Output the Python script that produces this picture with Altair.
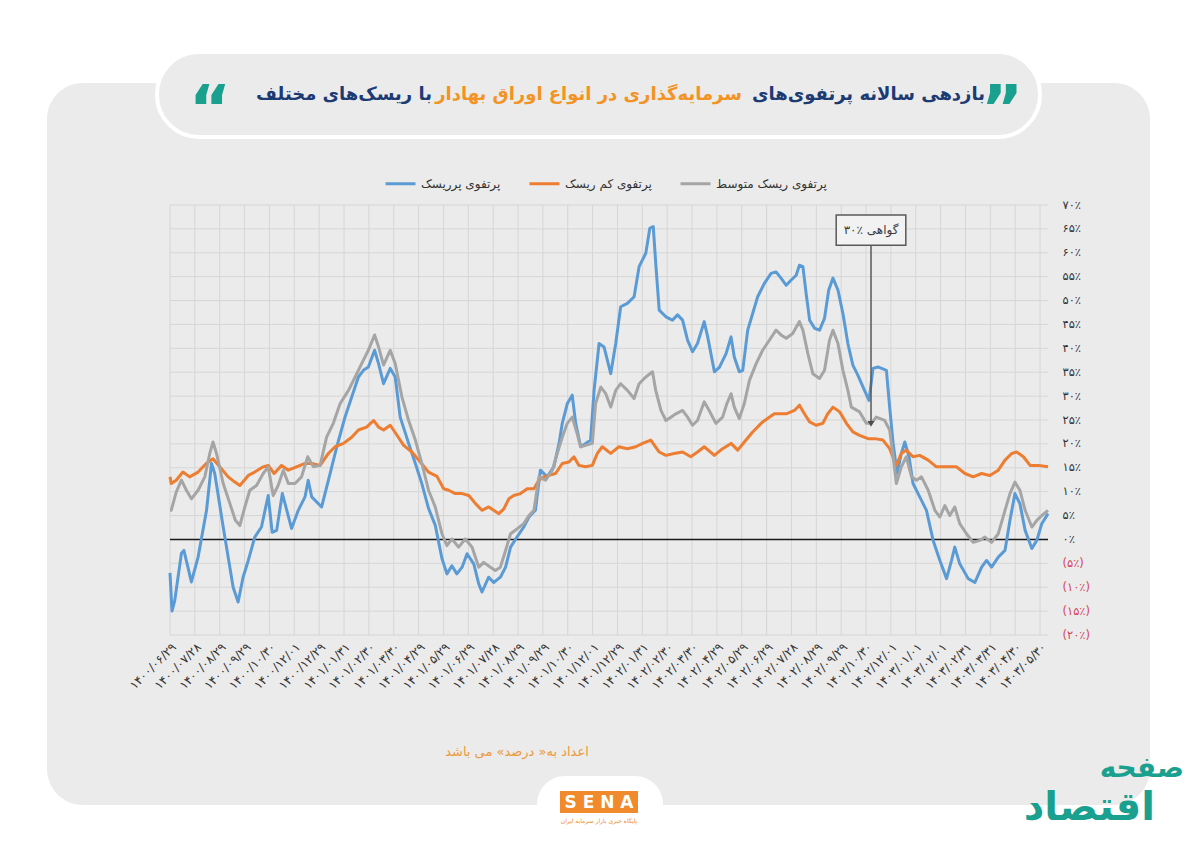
import json

import altair as alt
import pandas as pd

# ---------------- data ----------------
# t = position along the x axis in "label steps" (0 = first date label), v = annual return in %
x_labels = [
    "۱۴۰۰/۰۶/۲۹", "۱۴۰۰/۰۷/۲۸", "۱۴۰۰/۰۸/۲۹", "۱۴۰۰/۰۹/۲۹", "۱۴۰۰/۱۰/۳۰", "۱۴۰۰/۱۲/۰۱",
    "۱۴۰۰/۱۲/۲۹", "۱۴۰۱/۰۱/۳۱", "۱۴۰۱/۰۲/۳۰", "۱۴۰۱/۰۳/۳۰", "۱۴۰۱/۰۴/۲۹", "۱۴۰۱/۰۵/۲۹",
    "۱۴۰۱/۰۶/۲۹", "۱۴۰۱/۰۷/۲۸", "۱۴۰۱/۰۸/۲۹", "۱۴۰۱/۰۹/۲۹", "۱۴۰۱/۱۰/۳۰", "۱۴۰۱/۱۲/۰۱",
    "۱۴۰۱/۱۲/۲۹", "۱۴۰۲/۰۱/۳۱", "۱۴۰۲/۰۲/۳۰", "۱۴۰۲/۰۳/۳۰", "۱۴۰۲/۰۴/۲۹", "۱۴۰۲/۰۵/۲۹",
    "۱۴۰۲/۰۶/۲۹", "۱۴۰۲/۰۷/۲۸", "۱۴۰۲/۰۸/۲۹", "۱۴۰۲/۰۹/۲۹", "۱۴۰۲/۱۰/۳۰", "۱۴۰۲/۱۲/۰۱",
    "۱۴۰۳/۰۱/۰۱", "۱۴۰۳/۰۲/۰۱", "۱۴۰۳/۰۲/۳۱", "۱۴۰۳/۰۳/۳۱", "۱۴۰۳/۰۴/۳۰", "۱۴۰۳/۰۵/۳۰",
]
x_ticks = list(range(len(x_labels)))
y_ticks = list(range(-20, 75, 5))
y_labels = [
    "(۲۰٪)", "(۱۵٪)", "(۱۰٪)", "(۵٪)", "۰٪", "۵٪", "۱۰٪", "۱۵٪", "۲۰٪", "۲۵٪",
    "۳۰٪", "۳۵٪", "۴۰٪", "۴۵٪", "۵۰٪", "۵۵٪", "۶۰٪", "۶۵٪", "۷۰٪",
]

series_names = ["پرتفوی پرریسک", "پرتفوی کم ریسک", "پرتفوی ریسک متوسط"]
series_colors = ["#5b9bd5", "#ed7d31", "#a5a5a5"]

high_t = [0.0, 0.08, 0.19, 0.46, 0.56, 0.86, 1.13, 1.47, 1.67, 1.8, 2.14, 2.34, 2.54, 2.74,
          2.94, 3.15, 3.41, 3.68, 3.95, 4.11, 4.29, 4.52, 4.89, 5.16, 5.43, 5.56, 5.7, 6.1,
          6.44, 6.71, 7.04, 7.31, 7.58, 7.78, 7.98, 8.23, 8.39, 8.59, 8.86, 9.06, 9.26, 9.6,
          9.87, 10.13, 10.4, 10.67, 10.94, 11.14, 11.34, 11.54, 11.75, 11.95, 12.22, 12.42,
          12.55, 12.82, 13.02, 13.29, 13.5, 13.7, 13.96, 14.23, 14.44, 14.7, 14.9, 15.17,
          15.44, 15.65, 15.78, 15.98, 16.18, 16.32, 16.52, 16.72, 16.92, 17.06, 17.26, 17.46,
          17.73, 17.93, 18.13, 18.4, 18.67, 18.87, 19.14, 19.3, 19.44, 19.54, 19.68, 19.95,
          20.21, 20.42, 20.62, 20.82, 21.02, 21.22, 21.49, 21.63, 21.9, 22.1, 22.37, 22.57,
          22.7, 22.9, 23.04, 23.24, 23.44, 23.64, 23.91, 24.18, 24.38, 24.58, 24.79, 24.99,
          25.19, 25.32, 25.46, 25.59, 25.73, 25.93, 26.13, 26.33, 26.5, 26.67, 26.87, 27.07,
          27.27, 27.47, 27.67, 27.88, 28.12, 28.28, 28.48, 28.82, 28.95, 29.09, 29.25, 29.42,
          29.56, 29.73, 29.89, 30.16, 30.43, 30.7, 30.97, 31.24, 31.44, 31.57, 31.77, 32.11,
          32.38, 32.65, 32.85, 33.05, 33.32, 33.59, 33.79, 33.99, 34.19, 34.4, 34.67, 34.87,
          35.07, 35.32]
high_v = [-7.0, -15.0, -12.8, -2.9, -2.3, -8.9, -3.7, 6.1, 15.9, 13.8, 2.6, -3.7, -10.0, -13.1,
          -7.9, -4.4, 0.5, 2.6, 9.2, 1.5, 1.9, 9.6, 2.3, 6.1, 8.9, 12.4, 8.9, 6.8,
          13.8, 19.4, 25.6, 29.8, 34.0, 35.4, 36.1, 39.6, 36.8, 32.6, 35.8, 34.0, 25.6, 20.1,
          15.9, 11.7, 6.5, 3.0, -4.0, -7.2, -5.5, -7.2, -5.8, -3.0, -5.1, -9.3,
          -11.0, -7.9, -9.0, -7.9, -5.8, -1.6, 0.5, 2.6, 4.7, 6.1, 14.5, 13.1,
          15.2, 20.1, 24.3, 28.4, 30.2, 24.3, 19.4, 20.1, 20.8, 31.2, 41.0, 40.3,
          34.7, 41.0, 48.7, 49.4, 50.8, 57.1, 59.9, 65.1, 65.5, 57.8, 48.0, 46.6,
          45.9, 47.0, 45.9, 41.7, 39.3, 41.0, 45.6, 42.4, 35.1, 36.0, 38.9, 42.4,
          38.2, 35.1, 35.4, 43.8, 47.3, 50.8, 53.6, 55.7, 56.0, 54.7, 53.2, 54.3,
          55.3, 57.4, 57.1, 51.5, 45.9, 44.2, 43.8, 46.3, 52.2, 54.7, 52.2, 47.3,
          41.0, 36.5, 34.4, 31.9, 29.1, 35.8, 36.1, 35.4, 27.7, 20.1, 13.8, 18.0,
          20.4, 17.3, 11.7, 8.9, 6.1, -0.2, -4.4, -8.2, -4.4, -1.6, -5.1, -8.2,
          -9.0, -5.8, -4.4, -5.8, -3.7, -2.3, 4.0, 9.6, 7.5, 1.9, -1.9, -0.2,
          3.3, 5.4]

low_t = [0.0, 0.05, 0.25, 0.52, 0.79, 1.13, 1.46, 1.73, 2.0, 2.34, 2.61, 2.81, 3.15, 3.41,
         3.75, 3.95, 4.19, 4.49, 4.76, 5.09, 5.43, 5.7, 6.04, 6.37, 6.64, 6.98, 7.31, 7.58,
         7.91, 8.19, 8.39, 8.59, 8.86, 9.13, 9.4, 9.73, 10.07, 10.4, 10.74, 11.01, 11.21,
         11.48, 11.75, 12.02, 12.29, 12.55, 12.82, 13.02, 13.23, 13.43, 13.63, 13.83, 14.1,
         14.37, 14.64, 14.84, 15.04, 15.24, 15.51, 15.78, 16.05, 16.25, 16.45, 16.72, 16.99,
         17.19, 17.39, 17.73, 18.06, 18.4, 18.74, 19.01, 19.34, 19.68, 19.95, 20.28, 20.62,
         20.95, 21.22, 21.49, 21.9, 22.23, 22.57, 22.84, 23.17, 23.44, 23.84, 24.31, 24.79,
         25.12, 25.32, 25.52, 25.73, 25.99, 26.26, 26.46, 26.67, 26.94, 27.21, 27.47, 27.74,
         28.08, 28.35, 28.68, 28.95, 29.22, 29.42, 29.62, 29.89, 30.16, 30.5, 30.83, 31.1,
         31.37, 31.64, 31.98, 32.31, 32.65, 32.98, 33.32, 33.59, 33.86, 34.06, 34.33, 34.6,
         34.93, 35.32]
low_v = [13.1, 11.7, 12.4, 14.1, 13.1, 14.1, 15.9, 16.9, 15.2, 13.1, 12.0, 11.3, 13.4, 14.1,
         15.2, 15.5, 13.8, 15.5, 14.5, 15.2, 15.9, 15.9, 15.5, 18.0, 19.4, 20.1, 21.4, 22.9,
         23.5, 24.9, 23.5, 22.9, 23.9, 21.8, 19.7, 18.3, 16.2, 14.1, 13.2, 10.6, 10.3,
         9.6, 9.6, 9.2, 7.5, 6.1, 6.8, 6.1, 5.4, 6.4, 8.5, 9.2, 9.6,
         10.6, 10.6, 12.4, 13.1, 13.4, 13.8, 15.9, 16.2, 17.3, 15.5, 15.2, 15.5,
         18.0, 19.4, 18.0, 19.4, 19.0, 19.4, 20.1, 20.8, 18.3, 17.6, 18.0, 18.3,
         17.3, 18.3, 19.4, 17.6, 19.0, 20.1, 18.7, 20.8, 22.5, 24.6, 26.3, 26.3,
         27.0, 28.1, 26.3, 24.6, 23.9, 24.3, 26.3, 27.7, 26.7, 24.3, 22.5, 21.8,
         21.1, 21.1, 20.8, 19.0, 15.5, 18.0, 18.7, 17.3, 17.6, 16.6, 15.2, 15.2,
         15.2, 15.2, 13.8, 13.1, 13.8, 13.4, 14.5, 16.6, 18.0, 18.3, 17.3, 15.5,
         15.5, 15.2]

mid_t = [0.0, 0.05, 0.25, 0.46, 0.66, 0.86, 1.13, 1.4, 1.6, 1.73, 1.87, 2.14, 2.41, 2.63,
         2.81, 3.01, 3.21, 3.48, 3.75, 3.95, 4.15, 4.35, 4.56, 4.76, 5.03, 5.29, 5.54, 5.77,
         6.04, 6.3, 6.57, 6.84, 7.18, 7.45, 7.71, 7.98, 8.23, 8.39, 8.59, 8.86, 9.06, 9.33,
         9.6, 9.87, 10.13, 10.4, 10.67, 10.94, 11.14, 11.34, 11.61, 11.88, 12.15, 12.42,
         12.62, 12.89, 13.09, 13.29, 13.5, 13.7, 13.96, 14.23, 14.44, 14.64, 14.84, 15.11,
         15.38, 15.58, 15.78, 15.98, 16.18, 16.38, 16.52, 16.72, 16.99, 17.12, 17.33, 17.53,
         17.73, 17.93, 18.13, 18.4, 18.67, 18.87, 19.14, 19.41, 19.54, 19.75, 19.95, 20.15,
         20.35, 20.62, 20.82, 21.02, 21.22, 21.49, 21.69, 21.96, 22.23, 22.4, 22.57, 22.7,
         22.9, 23.1, 23.31, 23.58, 23.84, 24.11, 24.38, 24.58, 24.79, 25.05, 25.32, 25.46,
         25.66, 25.86, 26.13, 26.33, 26.53, 26.67, 26.87, 27.07, 27.27, 27.41, 27.74, 28.01,
         28.21, 28.41, 28.75, 28.95, 29.09, 29.22, 29.42, 29.62, 29.83, 30.03, 30.23, 30.5,
         30.77, 30.97, 31.17, 31.37, 31.57, 31.77, 32.04, 32.31, 32.58, 32.78, 33.05, 33.32,
         33.59, 33.79, 33.99, 34.19, 34.4, 34.67, 34.87, 35.07, 35.32]
mid_v = [6.1, 6.1, 9.9, 12.4, 10.3, 8.5, 10.3, 13.1, 18.0, 20.4, 18.0, 11.7, 7.5, 4.0,
         2.9, 6.8, 10.3, 11.3, 13.8, 15.2, 9.2, 11.3, 14.5, 11.7, 11.7, 13.1, 17.3, 15.2,
         15.5, 21.4, 24.3, 28.4, 31.2, 34.0, 36.8, 39.6, 42.8, 40.3, 36.5, 39.6, 36.8, 29.8,
         24.9, 20.8, 15.9, 10.3, 6.8, 1.2, -1.3, 0.1, -1.6, 0.1, -1.6, -5.8,
         -4.8, -5.8, -6.5, -5.8, -2.3, 1.2, 2.2, 3.3, 5.0, 6.1, 13.1, 12.4,
         14.5, 18.0, 21.4, 24.3, 25.6, 22.1, 19.4, 19.7, 20.1, 28.4, 31.9, 30.5,
         27.7, 31.2, 32.6, 31.2, 29.5, 32.6, 34.0, 35.1, 31.2, 27.0, 24.9, 25.6,
         26.3, 27.0, 25.6, 23.9, 24.9, 28.8, 27.0, 24.3, 25.6, 28.4, 30.5, 27.7,
         25.3, 28.4, 33.3, 36.8, 39.6, 41.7, 43.8, 42.8, 42.1, 43.1, 45.6, 43.8,
         38.9, 34.7, 33.7, 35.4, 41.7, 43.8, 41.0, 35.4, 31.2, 27.7, 26.7, 24.3,
         24.3, 25.6, 24.9, 22.9, 17.3, 11.7, 15.2, 17.3, 13.1, 12.4, 13.1, 10.3,
         6.1, 4.7, 7.1, 5.0, 6.8, 3.3, 1.2, -0.6, -0.2, 0.5, -0.6, 1.2,
         6.1, 9.6, 12.0, 10.3, 6.1, 2.6, 4.0, 5.0, 6.1]

# annotation ("certificate 30%") box and arrow, in data units
note_text = "\u200e۳۰٪ گواهی"
note_t, note_t0, note_t1 = 28.2, 26.8, 29.6
note_v0, note_v1, note_tip = 61.6, 67.9, 23.0

title_parts = ["بازدهی سالانه پرتفوی‌های", "سرمایه‌گذاری در انواع اوراق بهادار", "با ریسک‌های مختلف"]
footnote = "اعداد به« درصد» می باشد"

# ---------------- chart ----------------
W, H = 878, 430
FONT = "DejaVu Sans"
NAVY, ORANGE, TEAL = "#1d3b73", "#f39323", "#1aa08f"
CARD = "#ebebeb"

lines_df = pd.concat(
    [
        pd.DataFrame({"t": high_t, "v": high_v, "s": series_names[0], "o": 0}),
        pd.DataFrame({"t": low_t, "v": low_v, "s": series_names[1], "o": 1}),
        pd.DataFrame({"t": mid_t, "v": mid_v, "s": series_names[2], "o": 2}),
    ],
    ignore_index=True,
)

xscale = alt.Scale(domain=[0, 35.32], nice=False, zero=False)
yscale = alt.Scale(domain=[-20, 70], nice=False)
xaxis = alt.Axis(
    values=x_ticks,
    labelExpr=f"{json.dumps(x_labels, ensure_ascii=False)}[datum.value]",
    labelAngle=-45,
    labelFontSize=12,
    labelColor="#333333",
    labelPadding=6,
    labelFont=FONT,
    grid=False,
    ticks=False,
    domain=False,
    title=None,
    labelOverlap=False,
    zindex=1,
)
yaxis = alt.Axis(
    orient="right",
    values=y_ticks,
    labelExpr=f"{json.dumps(y_labels, ensure_ascii=False)}[(datum.value + 20) / 5]",
    labelFontSize=11.5,
    labelColor=alt.condition("datum.value < 0", alt.value("#d2475b"), alt.value("#333333")),
    labelPadding=14,
    labelAlign="left",
    labelFont=FONT,
    grid=False,
    ticks=False,
    domain=False,
    title=None,
    labelOverlap=False,
    zindex=1,
)

one = pd.DataFrame({"k": [0]})

card = alt.Chart(one).mark_rect(fill=CARD, cornerRadius=36).encode(
    x=alt.value(-123), x2=alt.value(980), y=alt.value(-122), y2=alt.value(600)
)
pill = alt.Chart(one).mark_rect(fill=CARD, stroke="white", strokeWidth=4, cornerRadius=42).encode(
    x=alt.value(-13), x2=alt.value(870), y=alt.value(-153), y2=alt.value(-68)
)

def title_text(txt, color, x):
    return alt.Chart(one).mark_text(
        text=txt, color=color, font=FONT, fontSize=18, fontWeight="bold",
        align="right", baseline="middle",
    ).encode(x=alt.value(x), y=alt.value(-110))

title = [
    title_text(title_parts[0], NAVY, 815),
    title_text(title_parts[1], ORANGE, 572),
    title_text(title_parts[2], NAVY, 262),
]
quotes = [
    alt.Chart(one).mark_text(text="”", color=TEAL, font=FONT, fontSize=64, fontWeight="bold",
                             baseline="middle").encode(x=alt.value(832), y=alt.value(-93)),
    alt.Chart(one).mark_text(text="“", color=TEAL, font=FONT, fontSize=64, fontWeight="bold",
                             baseline="middle").encode(x=alt.value(40), y=alt.value(-93)),
]

vgrid = alt.Chart(pd.DataFrame({"t": x_ticks})).mark_rule(color="#d6d6d6", strokeWidth=1).encode(
    x=alt.X("t:Q", scale=xscale, axis=xaxis), y=alt.value(0), y2=alt.value(H)
)
hgrid = alt.Chart(pd.DataFrame({"v": y_ticks})).mark_rule(color="#d6d6d6", strokeWidth=1).encode(
    y=alt.Y("v:Q", scale=yscale, axis=yaxis), x=alt.value(0), x2=alt.value(W)
)
zero = alt.Chart(pd.DataFrame({"v": [0]})).mark_rule(color="#1a1a1a", strokeWidth=1.5).encode(
    y=alt.Y("v:Q", scale=yscale, axis=yaxis), x=alt.value(0), x2=alt.value(W)
)

lines = alt.Chart(lines_df).mark_line(strokeWidth=3, strokeJoin="round").encode(
    x=alt.X("t:Q", scale=xscale, axis=xaxis),
    y=alt.Y("v:Q", scale=yscale, axis=yaxis),
    color=alt.Color(
        "s:N",
        scale=alt.Scale(domain=series_names, range=series_colors),
        legend=alt.Legend(
            orient="none", legendX=214, legendY=-38, direction="horizontal", title=None,
            symbolType="stroke", symbolSize=900, symbolStrokeWidth=3,
            labelFont=FONT, labelFontSize=12, labelColor="#333333", columnPadding=22,
        ),
    ),
    order="o:Q",
)

note_box = alt.Chart(pd.DataFrame({"t0": [note_t0], "t1": [note_t1], "v0": [note_v0], "v1": [note_v1]})).mark_rect(
    fill="#f2f2f2", stroke="#595959", strokeWidth=1.5
).encode(
    x=alt.X("t0:Q", scale=xscale, axis=xaxis), x2="t1:Q",
    y=alt.Y("v0:Q", scale=yscale, axis=yaxis), y2="v1:Q",
)
note_label = alt.Chart(pd.DataFrame({"t": [note_t], "v": [(note_v0 + note_v1) / 2]})).mark_text(
    text=note_text, font=FONT, fontSize=12, color="#3a3a3a", baseline="middle"
).encode(x=alt.X("t:Q", scale=xscale, axis=xaxis), y=alt.Y("v:Q", scale=yscale, axis=yaxis))
arrow = alt.Chart(pd.DataFrame({"t": [note_t], "v0": [note_v0], "v1": [note_tip + 1.5]})).mark_rule(
    color="#595959", strokeWidth=1.5
).encode(x=alt.X("t:Q", scale=xscale, axis=xaxis), y=alt.Y("v0:Q", scale=yscale, axis=yaxis), y2="v1:Q")
arrow_head = alt.Chart(pd.DataFrame({"t": [note_t], "v": [note_tip + 1.2]})).mark_point(
    shape="triangle-down", filled=True, color="#4d4d4d", size=45, opacity=1
).encode(x=alt.X("t:Q", scale=xscale, axis=xaxis), y=alt.Y("v:Q", scale=yscale, axis=yaxis))

foot = alt.Chart(one).mark_text(
    text=footnote, font=FONT, fontSize=13, color="#eb9a3c", align="center", baseline="middle"
).encode(x=alt.value(347), y=alt.value(547))

sena_tab = alt.Chart(one).mark_rect(fill="white", cornerRadius=28).encode(
    x=alt.value(367), x2=alt.value(493), y=alt.value(571), y2=alt.value(650)
)
sena_box = alt.Chart(one).mark_rect(fill="#f08a2c").encode(
    x=alt.value(390), x2=alt.value(468), y=alt.value(586), y2=alt.value(608)
)
sena_txt = alt.Chart(one).mark_text(
    text="S E N A", font=FONT, fontSize=17, fontWeight="bold", color="white", baseline="middle"
).encode(x=alt.value(429), y=alt.value(598))
sena_sub = alt.Chart(one).mark_text(
    text="پایگاه خبری بازار سرمایه ایران", font=FONT, fontSize=6, color="#f08a2c", baseline="middle"
).encode(x=alt.value(429), y=alt.value(616))

logo = [
    alt.Chart(one).mark_text(text="صفحه", font=FONT, fontSize=28, fontWeight="bold", color=TEAL,
                             align="right", baseline="middle").encode(x=alt.value(1014), y=alt.value(564)),
    alt.Chart(one).mark_text(text="اقتصاد", font=FONT, fontSize=40, fontWeight="bold", color=TEAL,
                             align="right", baseline="middle").encode(x=alt.value(985), y=alt.value(603)),
]

chart = (
    alt.layer(
        card, pill, *title, *quotes, vgrid, hgrid, zero, lines,
        note_box, note_label, arrow, arrow_head, foot, sena_tab, sena_box, sena_txt, sena_sub, *logo,
    )
    .properties(
        width=W, height=H, autosize="none",
        padding={"left": 162, "top": 197, "right": 140, "bottom": 205},
    )
    .configure_view(stroke=None)
    .configure(background="white", font=FONT)
)

chart.save("out.html", embed_options={"renderer": "svg", "actions": False})
